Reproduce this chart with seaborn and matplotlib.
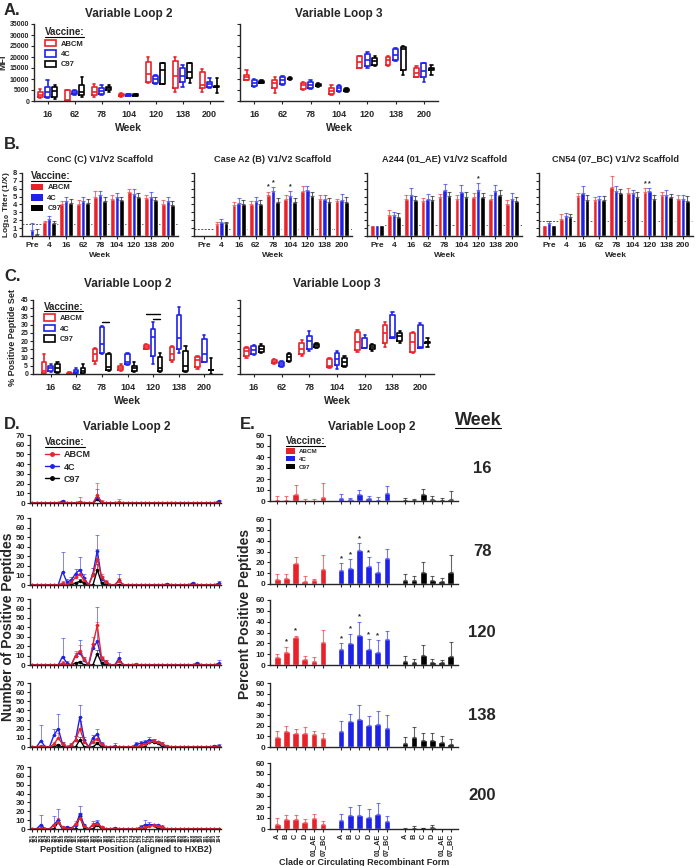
import numpy as np
import pandas as pd
import matplotlib
matplotlib.use('Agg')
import matplotlib.pyplot as plt
import seaborn as sns
from matplotlib.patches import Patch
from matplotlib.lines import Line2D

sns.set_style('ticks')
plt.rcParams['font.family'] = ['Liberation Sans', 'DejaVu Sans']
plt.rcParams['font.weight'] = 'bold'
plt.rcParams['axes.labelweight'] = 'bold'
plt.rcParams['axes.titleweight'] = 'bold'
plt.rcParams['axes.linewidth'] = 1.0
plt.rcParams['xtick.major.size'] = 2.5
plt.rcParams['ytick.major.size'] = 2.5
plt.rcParams['xtick.major.width'] = 0.8
plt.rcParams['ytick.major.width'] = 0.8
plt.rcParams['xtick.major.pad'] = 1.5
plt.rcParams['ytick.major.pad'] = 1.0

VACCINES = ['ABCM', '4C', 'C97']
COLORS = {'ABCM': '#e8222a', '4C': '#1e22e8', 'C97': '#000000'}

# ---- panel A: MFI box summaries (min, q1, median, q3, max) ----
BOX_WEEKS = ['16', '62', '78', '104', '120', '138', '200']
mfi_v2 = {
    'ABCM': [(1200, 2000, 2800, 4200, 5300), (0, 100, 500, 4800, 5200), (2000, 2700, 4300, 6200, 7600),
             (2000, 2300, 2700, 3100, 3500), (8400, 8800, 12300, 17700, 19800), (4300, 5800, 11400, 18300, 20200),
             (4300, 5800, 7300, 13400, 14500)],
    '4C': [(1500, 2000, 4300, 6500, 9600), (2700, 3000, 3800, 4500, 5000), (2700, 3000, 4700, 5800, 7300),
           (2300, 2500, 2800, 3100, 3300), (7800, 8400, 9900, 11400, 11900), (6500, 8800, 11400, 14900, 16400),
           (5800, 6500, 7600, 8800, 10400)],
    'C97': [(1000, 2000, 4700, 6200, 7300), (2000, 2700, 4300, 7300, 10800), (4300, 5000, 5800, 6500, 7300),
            (2200, 2500, 2800, 3100, 3300), (7600, 7700, 14200, 17200, 17500), (8400, 10400, 13400, 17200, 17500),
            (3800, 6300, 6500, 6700, 10400)],
}
mfi_v3 = {
    'ABCM': [(9600, 9700, 10800, 11800, 13900), (3800, 5800, 8000, 9600, 11000), (5000, 5500, 7300, 8400, 8800),
             (2700, 3000, 4600, 5800, 7300), (14900, 15000, 17800, 20500, 20500), (16000, 16300, 18700, 20000, 20500),
             (10800, 10900, 12900, 15000, 16000)],
    '4C': [(6200, 7000, 8000, 9600, 9900), (7300, 7800, 9600, 10800, 11400), (5300, 5800, 7300, 8800, 9600),
           (4300, 4500, 6100, 6800, 7300), (15000, 16000, 18700, 21500, 22500), (18000, 18500, 21000, 23500, 24000),
           (8800, 11100, 13700, 17200, 17500)],
    'C97': [(8000, 8300, 8800, 9300, 9600), (9600, 9800, 10000, 10600, 11000), (6200, 6700, 7300, 7800, 8400),
            (4300, 4500, 5000, 5300, 5800), (15700, 16200, 18000, 19500, 20500), (11900, 14000, 23600, 24500, 24800),
            (11900, 14200, 14500, 14800, 16400)],
}

# ---- panel B: log10 titers ----
TITER_WEEKS = ['Pre', '4', '16', '62', '78', '104', '120', '138', '200']
titer_titles = ['ConC (C) V1/V2 Scaffold', 'Case A2 (B) V1/V2 Scaffold',
                'A244 (01_AE) V1/V2 Scaffold', 'CN54 (07_BC) V1/V2 Scaffold']
titer_cutoffs = [1.55, 0.9, 1.4, 1.9]
titer_vals = [
    {'ABCM': [0, 1.8, 4.0, 4.1, 4.95, 4.75, 5.6, 4.85, 4.1],
     '4C': [0.7, 2.15, 4.45, 4.45, 5.25, 5.0, 5.35, 5.0, 4.4],
     'C97': [0.3, 1.6, 4.25, 4.25, 4.45, 4.6, 4.95, 4.6, 3.9]},
    {'ABCM': [0, 1.5, 3.9, 4.0, 5.2, 4.75, 5.7, 4.75, 4.4],
     '4C': [0, 1.8, 4.25, 4.4, 5.7, 5.1, 5.9, 4.75, 4.6],
     'C97': [0, 1.6, 4.0, 4.0, 4.3, 4.3, 5.05, 4.3, 4.3]},
    {'ABCM': [1.4, 2.65, 4.75, 4.45, 4.9, 4.75, 4.95, 4.75, 4.05],
     '4C': [1.4, 2.65, 5.25, 4.75, 5.8, 5.6, 5.8, 5.7, 4.75],
     'C97': [1.4, 2.35, 4.55, 4.55, 5.05, 4.95, 4.9, 5.2, 4.45]},
    {'ABCM': [1.4, 2.15, 5.1, 4.55, 6.2, 5.4, 5.6, 5.2, 4.65],
     '4C': [1.6, 2.5, 5.4, 4.65, 5.7, 5.4, 5.7, 5.2, 4.75],
     'C97': [1.4, 2.35, 4.55, 4.55, 5.4, 4.95, 4.75, 4.95, 4.4]},
]
titer_errs = [
    {'ABCM': [0, 0.1, 0.5, 0.5, 0.8, 0.5, 0.4, 0.4, 0.5],
     '4C': [0.9, 0.4, 0.5, 0.5, 0.5, 0.5, 0.6, 0.6, 0.6],
     'C97': [0.6, 0.3, 0.5, 0.5, 0.5, 0.4, 0.5, 0.4, 0.5]},
    {'ABCM': [0, 0.3, 0.4, 0.5, 0.4, 0.4, 0.7, 0.5, 0.3],
     '4C': [0, 0.3, 0.6, 0.6, 0.5, 0.6, 0.5, 0.5, 0.7],
     'C97': [0, 0.2, 0.6, 0.6, 0.5, 0.5, 0.5, 0.5, 0.6]},
    {'ABCM': [0, 0.7, 0.5, 0.4, 0.4, 0.5, 0.5, 0.5, 0.5],
     '4C': [0, 0.4, 0.8, 0.6, 0.8, 0.9, 0.9, 0.8, 0.7],
     'C97': [0, 0.6, 0.5, 0.5, 0.5, 0.6, 0.6, 0.6, 0.5]},
    {'ABCM': [0, 0.6, 0.3, 0.4, 1.4, 0.7, 0.5, 0.4, 0.5],
     '4C': [0.3, 0.4, 0.9, 0.4, 0.6, 0.5, 0.4, 0.6, 0.5],
     'C97': [0, 0.5, 0.6, 0.5, 0.6, 0.6, 0.4, 0.4, 0.7]},
]
titer_stars = [[], [('78', 'ABCM'), ('78', '4C'), ('104', '4C')], [('120', '4C')],
               [('120', 'ABCM'), ('120', '4C')]]

# ---- panel C: % positive peptide set (min, q1, median, q3, max) ----
pct_v2 = {
    'ABCM': [(0, 0.5, 2, 7, 12), (0, 0.2, 0.5, 0.8, 1), (6, 8, 12, 15, 16), (2, 2.5, 3.5, 5, 6),
             (15, 15.5, 16.5, 17.5, 18), (7, 8.5, 12, 16.5, 17), (3, 4.5, 8.5, 10.5, 11)],
    '4C': [(1, 2, 3.5, 5, 6), (0, 0.5, 1.5, 2.5, 3.5), (12, 13, 18.5, 28.5, 29), (5.5, 6, 7, 12, 12.5),
           (6, 11, 22.5, 27.5, 31.5), (13, 15, 22, 36, 40.5), (7, 7.5, 12, 21, 23.5)],
    'C97': [(0.5, 1.5, 3.5, 6, 7), (0, 0.5, 2, 3.5, 6), (2, 2.5, 4, 12, 13), (1, 2, 3.5, 5, 7),
            (1.5, 2, 3.5, 10.5, 13), (1.5, 2, 5, 14, 17), (0, 2.3, 2.5, 2.7, 10)],
}
pct_v3 = {
    'ABCM': [(10, 11, 14, 16, 16.5), (6, 6.5, 7.5, 8.5, 9), (11, 12, 15, 19, 20.5), (3.5, 4, 5, 9, 10),
             (13.6, 14.6, 19.7, 25.8, 26.8), (16.6, 18.7, 24.7, 29.8, 31.4), (13, 13.5, 19.3, 25, 25.4)],
    '4C': [(11.5, 12, 14.5, 17, 17.5), (4.5, 5, 6, 7, 8), (14, 15.5, 20, 23, 26), (3, 5.5, 9, 13, 14),
           (15.6, 15.7, 16, 21.7, 24), (22, 22.1, 22.3, 36, 37.5), (15.8, 16, 16.2, 29.8, 30.8)],
    'C97': [(13, 13.5, 15.5, 17, 18), (7.5, 8, 10.5, 12, 13), (16, 16.5, 17.5, 18.5, 19), (4, 5, 7.5, 9.5, 11),
            (14, 15, 16.6, 17.6, 18), (18.7, 20.3, 23.3, 25, 26.4), (16.6, 19, 19.3, 19.6, 21.7)],
}
# significance bars (week, from vaccine, to vaccine, height)
pct_sig = [('78', '4C', 'C97', 31.5), ('120', 'ABCM', 'C97', 36.5), ('120', '4C', 'C97', 33.7)]

# ---- panel D: positive peptides per start position ----
PEP_POS = list(range(151, 195))
PEP_WEEKS = ['16', '78', '120', '138', '200']
# {position index: (mean, sd)}
pep_abcm = {
    '16': {11: (1, 5), 15: (8, 13), 16: (1, 2), 20: (1, 3), 32: (0.5, 1)},
    '78': {7: (2, 2), 9: (3, 2), 10: (8, 4), 11: (11, 6), 12: (5, 3), 14: (10, 8), 15: (27, 11),
           16: (8, 3), 17: (3, 2), 20: (4, 3)},
    '120': {7: (2, 2), 10: (10, 5), 11: (15, 6), 12: (6, 3), 14: (22, 8), 15: (42, 4), 16: (7, 3),
            17: (3, 2), 20: (4, 3), 24: (1, 1)},
    '138': {2: (1, 1), 5: (3, 2), 6: (10, 5), 7: (3, 2), 9: (2, 1), 10: (8, 4), 11: (20, 8), 12: (6, 3),
            14: (6, 3), 15: (9, 4), 16: (3, 1), 25: (2, 2), 26: (3, 2), 27: (5, 2), 28: (7, 2), 29: (5, 2),
            30: (3, 2), 31: (1, 1)},
    '200': {2: (1, 1), 5: (4, 2), 6: (8, 4), 7: (2, 1), 10: (6, 3), 11: (12, 4), 12: (3, 2), 14: (5, 2),
            15: (6, 3), 16: (2, 1), 25: (1, 2), 26: (2, 2), 27: (3, 2), 28: (4, 2), 29: (3, 2), 30: (2, 1)},
}
pep_4c = {
    '16': {7: (2, 1), 11: (1, 1), 15: (6, 8), 43: (2, 1)},
    '78': {7: (14, 20), 8: (3, 3), 9: (5, 3), 10: (12, 5), 11: (16, 13), 12: (7, 4), 14: (12, 6),
           15: (36, 16), 16: (6, 3), 17: (3, 1), 20: (5, 6), 31: (1, 1), 37: (2, 1), 43: (2, 2)},
    '120': {7: (9, 20), 8: (2, 2), 10: (10, 3), 11: (13, 14), 12: (5, 3), 14: (18, 4), 15: (25, 36),
            16: (6, 3), 17: (3, 2), 20: (7, 7), 38: (2, 1), 43: (2, 3)},
    '138': {2: (7, 17), 5: (13, 7), 6: (20, 16), 7: (3, 2), 9: (2, 2), 10: (8, 4), 11: (33, 13), 12: (8, 3),
            14: (10, 3), 15: (14, 6), 16: (3, 2), 19: (1, 3), 24: (3, 2), 25: (4, 3), 26: (5, 3), 27: (8, 3),
            28: (7, 2), 29: (5, 2), 30: (3, 2), 42: (1, 1), 43: (1, 2)},
    '200': {2: (5, 11), 5: (5, 10), 6: (10, 13), 8: (2, 1), 9: (1, 1), 10: (4, 3), 11: (17, 9), 12: (4, 2),
            14: (5, 4), 15: (7, 3), 16: (2, 1), 19: (1, 1), 25: (2, 2), 26: (5, 5), 27: (5, 3), 28: (4, 2),
            29: (4, 2), 30: (2, 2)},
}
pep_c97 = {
    '16': {15: (4, 2)},
    '78': {10: (2, 1), 11: (4, 2), 12: (2, 1), 15: (16, 6), 16: (2, 1)},
    '120': {10: (2, 1), 11: (3, 1), 15: (12, 4), 16: (2, 1)},
    '138': {6: (2, 1), 11: (8, 3), 15: (4, 2), 27: (6, 2), 28: (5, 1), 29: (4, 1)},
    '200': {6: (8, 2), 11: (15, 3), 15: (5, 2), 27: (5, 1), 28: (4, 1)},
}

# ---- panel E: percent positive peptides by clade ----
CLADES = ['A', 'B', 'C', 'D', '01_AE', '07_BC']
clade_abcm = {'16': [1, 1, 6, 0, 0, 4], '78': [5, 6, 19, 3, 4, 14], '120': [7, 12, 26, 6, 4, 21],
              '138': [9, 15, 13, 13, 12, 8], '200': [5, 9, 9, 6, 10, 5]}
clade_abcm_sd = {'16': [4, 4, 9, 2, 2, 12], '78': [4, 3, 6, 4, 1, 13], '120': [3, 5, 1, 2, 3, 11],
                 '138': [6, 5, 4, 6, 3, 5], '200': [5, 4, 4, 3, 4, 2]}
clade_4c = {'16': [3, 2, 6, 3, 1, 7], '78': [13, 15, 31, 17, 11, 24], '120': [15, 20, 28, 15, 12, 24],
            '138': [15, 24, 26, 21, 22, 18], '200': [8, 13, 13, 11, 14, 7]}
clade_4c_sd = {'16': [3, 1, 4, 2, 3, 7], '78': [6, 8, 7, 8, 9, 8], '120': [5, 9, 12, 9, 11, 7],
               '138': [9, 7, 13, 8, 12, 12], '200': [6, 7, 9, 7, 10, 5]}
clade_c97 = {'16': [1, 1, 6, 2, 1, 2], '78': [4, 3.5, 11, 3.5, 3, 11], '120': [3.6, 2.7, 9, 2.7, 2.7, 8.4],
             '138': [3.3, 9.3, 7, 7, 4.8, 3], '200': [0, 1, 0.5, 2, 0, 0]}
clade_c97_sd = {'16': [2, 1, 5, 3, 2, 7], '78': [5, 3.5, 9, 4, 2.4, 15.5], '120': [4.4, 3.3, 9.5, 3.3, 1.8, 12.6],
                '138': [5.7, 9.7, 6.5, 6.5, 5.2, 4.5], '200': [0.5, 2, 0.5, 2, 0, 0]}
clade_stars = {'78': [('4C', 'A'), ('4C', 'B'), ('4C', 'C'), ('4C', 'D')],
               '120': [('ABCM', 'B'), ('ABCM', 'C'), ('4C', 'A'), ('4C', 'B'), ('4C', 'C'), ('4C', 'D'),
                       ('4C', '01_AE')]}

W, H = 696, 866
fig = plt.figure(figsize=(W / 100, H / 100), dpi=100)
underlined = []


def add_ax(l, t, r, b):
    return fig.add_axes([l / W, 1 - b / H, (r - l) / W, (b - t) / H])


def ftext(x, y, s, **kw):
    return fig.text(x / W, 1 - y / H, s, **kw)


def vaccine_legend(ax, handles, anchor, fs=5.5):
    leg = ax.legend(handles=handles, labels=VACCINES, title='Vaccine:', loc='upper left',
                    bbox_to_anchor=anchor, frameon=False, fontsize=fs, title_fontsize=7,
                    handlelength=1.5, handleheight=0.9, labelspacing=0.35, borderaxespad=0,
                    alignment='left', handletextpad=0.6)
    underlined.append(leg.get_title())
    return leg


def box_panel(ax, stats, ylim, yticks, show_ylabels=True):
    rows = [(wk, vac, v) for vac in VACCINES for wk, s in zip(BOX_WEEKS, stats[vac]) for v in s]
    df = pd.DataFrame(rows, columns=['week', 'vaccine', 'value'])
    sns.boxplot(data=df, x='week', y='value', hue='vaccine', order=BOX_WEEKS, hue_order=VACCINES,
                palette=COLORS, fill=False, whis=(0, 100), width=0.8, gap=0.35, linewidth=1.2,
                legend=False, ax=ax)
    ax.set_ylim(*ylim)
    ax.set_yticks(yticks)
    if not show_ylabels:
        ax.set_yticklabels([])
    ax.set_xlabel('Week', fontsize=7.5, labelpad=3)
    ax.set_ylabel('')
    ax.tick_params(axis='x', labelsize=6.5, pad=4)
    ax.tick_params(axis='y', labelsize=5)
    sns.despine(ax=ax)


box_handles = [Patch(facecolor='white', edgecolor=COLORS[v], linewidth=1.2) for v in VACCINES]
solid_handles = [Patch(facecolor=COLORS[v], edgecolor='none') for v in VACCINES]
line_handles = [Line2D([], [], color=COLORS[v], marker='o', markersize=2.5, linewidth=1) for v in VACCINES]

# ---------------- A ----------------
ax = add_ax(34, 24, 223, 101)
box_panel(ax, mfi_v2, (0, 35000), range(0, 35001, 5000))
ax.set_title('Variable Loop 2', fontsize=8.5, pad=5)
ax.set_ylabel('MFI', fontsize=6.5)
ax.yaxis.set_label_coords(-0.14, 0.5)
vaccine_legend(ax, box_handles, (0.04, 1.0))
ax = add_ax(240, 24, 438, 101)
box_panel(ax, mfi_v3, (0, 35000), range(0, 35001, 5000), show_ylabels=False)
ax.set_title('Variable Loop 3', fontsize=8.5, pad=5)
ftext(4, 15, 'A.', fontsize=12, fontweight='bold')

# ---------------- B ----------------
b_rects = [(22, 173, 178, 236), (194, 173, 352, 236), (367, 173, 522, 236), (539, 173, 693, 236)]
for k, rect in enumerate(b_rects):
    ax = add_ax(*rect)
    rows = [(wk, vac, v, e) for wk_i, wk in enumerate(TITER_WEEKS) for vac in VACCINES
            for v, e in [(titer_vals[k][vac][wk_i], titer_errs[k][vac][wk_i])]]
    df = pd.DataFrame(rows, columns=['week', 'vaccine', 'value', 'err'])
    sns.barplot(data=df, x='week', y='value', hue='vaccine', order=TITER_WEEKS, hue_order=VACCINES,
                palette=COLORS, saturation=1, width=0.8, errorbar=None, legend=False, ax=ax)
    bars = sorted(ax.patches, key=lambda p: p.get_x())
    for p, (_, row) in zip(bars, df.iterrows()):
        xc = p.get_x() + p.get_width() / 2
        if row['err'] > 0:
            ax.errorbar([xc], [row['value']], yerr=[[0], [row['err']]], fmt='none',
                        ecolor=COLORS[row['vaccine']], alpha=0.6, elinewidth=0.8, capsize=1.2, capthick=0.8)
        if (row['week'], row['vaccine']) in titer_stars[k]:
            ax.text(xc, row['value'] + row['err'] + 0.15, '*', ha='center', va='bottom', fontsize=5)
    ax.axhline(titer_cutoffs[k], color='#555555', ls='--', lw=0.7, dashes=(2, 1.5), zorder=0.5)
    ax.set_ylim(0, 8)
    ax.set_yticks(range(0, 9))
    ax.set_xlim(-0.6, 8.6)
    ax.tick_params(axis='x', labelsize=6, pad=2)
    ax.tick_params(axis='y', labelsize=5.5)
    ax.set_xlabel('Week', fontsize=6, labelpad=2)
    ax.set_ylabel('')
    ax.set_title(titer_titles[k], fontsize=6.6, pad=8)
    if k == 0:
        ax.set_ylabel(r'Log$_{10}$ Titer (1/X)', fontsize=6, labelpad=1)
        vaccine_legend(ax, solid_handles, (0.04, 1.08))
    else:
        ax.set_yticklabels([])
    sns.despine(ax=ax)
ftext(4, 149, 'B.', fontsize=12, fontweight='bold')

# ---------------- C ----------------
ax = add_ax(33, 300, 222, 374)
box_panel(ax, pct_v2, (0, 45), range(0, 46, 5))
ax.set_title('Variable Loop 2', fontsize=8.5, pad=9)
ax.set_ylabel('% Positive Peptide Set', fontsize=6.5, labelpad=2)
for wk, v_from, v_to, y in pct_sig:
    ctr = BOX_WEEKS.index(wk)
    x0 = ctr + (VACCINES.index(v_from) - 1) * 0.8 / 3
    x1 = ctr + (VACCINES.index(v_to) - 1) * 0.8 / 3
    ax.plot([x0, x1], [y, y], color='black', lw=1)
vaccine_legend(ax, box_handles, (0.04, 1.02))
ax = add_ax(240, 300, 434, 374)
box_panel(ax, pct_v3, (0, 45), range(0, 46, 5), show_ylabels=False)
ax.set_title('Variable Loop 3', fontsize=8.5, pad=9)
ftext(4, 281, 'C.', fontsize=12, fontweight='bold')

# ---------------- D ----------------
d_rows = [(435, 503), (518, 585), (599, 665), (683, 747), (767, 829)]
pep_sets = {'ABCM': pep_abcm, '4C': pep_4c, 'C97': pep_c97}
for k, (wk, (t, b)) in enumerate(zip(PEP_WEEKS, d_rows)):
    ax = add_ax(30, t, 221, b)
    rows = []
    for vac in VACCINES:
        for i, pos in enumerate(PEP_POS):
            m, sd = pep_sets[vac][wk].get(i, (0, 0))
            rows.append((i, vac, m, sd))
    df = pd.DataFrame(rows, columns=['pos', 'vaccine', 'value', 'sd'])
    for vac in ['C97', '4C', 'ABCM']:
        sub = df[df['vaccine'] == vac]
        nz = sub[sub['sd'] > 0]
        ax.errorbar(nz['pos'], nz['value'], yerr=[np.zeros(len(nz)), nz['sd']], fmt='none',
                    ecolor=COLORS[vac], alpha=0.55, elinewidth=0.7, capsize=1.2, capthick=0.7)
    sns.lineplot(data=df, x='pos', y='value', hue='vaccine', hue_order=['C97', '4C', 'ABCM'],
                 palette=COLORS, marker='o', markersize=2.5, markeredgewidth=0, linewidth=1,
                 legend=False, ax=ax)
    ax.set_xlim(-0.5, len(PEP_POS) - 0.5)
    ax.set_ylim(0, 70)
    ax.set_yticks(range(0, 71, 10))
    ax.set_xticks(range(len(PEP_POS)))
    ax.tick_params(axis='y', labelsize=6)
    ax.tick_params(axis='x', length=2)
    ax.set_xlabel('')
    ax.set_ylabel('')
    if k == len(PEP_WEEKS) - 1:
        ax.set_xticklabels([str(p) for p in PEP_POS], rotation=90, fontsize=3.6)
        ax.set_xlabel('Peptide Start Position (aligned to HXB2)', fontsize=6.5, labelpad=2)
    else:
        ax.set_xticklabels([])
    if k == 0:
        vaccine_legend(ax, line_handles, (0.06, 1.02), fs=6.5)
    sns.despine(ax=ax)
ftext(4, 429, 'D.', fontsize=12, fontweight='bold')
ftext(127, 430, 'Variable Loop 2', fontsize=8.5, fontweight='bold', ha='center')
ftext(8, 627, 'Number of Positive Peptides', fontsize=10, fontweight='bold', rotation=90,
      ha='center', va='center')

# ---------------- E ----------------
e_rows = [(435, 501), (519, 584), (600, 665), (683, 747), (763, 829)]
clade_sets = {'ABCM': (clade_abcm, clade_abcm_sd), '4C': (clade_4c, clade_4c_sd),
              'C97': (clade_c97, clade_c97_sd)}
gaps = ['gap1', 'gap2']
order = ([f'ABCM|{c}' for c in CLADES] + ['gap1'] + [f'4C|{c}' for c in CLADES] + ['gap2']
         + [f'C97|{c}' for c in CLADES])
for k, (wk, (t, b)) in enumerate(zip(PEP_WEEKS, e_rows)):
    ax = add_ax(270, t, 458, b)
    rows = []
    for vac in VACCINES:
        vals, sds = clade_sets[vac]
        for c, m, sd in zip(CLADES, vals[wk], sds[wk]):
            rows.append((f'{vac}|{c}', vac, c, m, sd))
    df = pd.DataFrame(rows, columns=['key', 'vaccine', 'clade', 'value', 'sd'])
    sns.barplot(data=df, x='key', y='value', hue='vaccine', order=order, hue_order=VACCINES,
                palette=COLORS, saturation=1, dodge=False, width=0.72, errorbar=None,
                legend=False, ax=ax)
    bars = sorted(ax.patches, key=lambda p: p.get_x())
    stars = clade_stars.get(wk, [])
    for p, (_, row) in zip(bars, df.iterrows()):
        xc = p.get_x() + p.get_width() / 2
        if row['sd'] > 0:
            ax.errorbar([xc], [row['value']], yerr=[[0], [row['sd']]], fmt='none',
                        ecolor=COLORS[row['vaccine']], alpha=0.6, elinewidth=0.8, capsize=1.2, capthick=0.8)
        if (row['vaccine'], row['clade']) in stars:
            ax.text(xc, row['value'] + row['sd'] + 1, '*', ha='center', va='bottom', fontsize=5.5)
    ticks = [i for i, key in enumerate(order) if key not in gaps]
    ax.set_xticks(ticks)
    ax.set_xlim(-0.8, len(order) - 0.2)
    ax.set_ylim(0, 60)
    ax.set_yticks(range(0, 61, 10))
    ax.tick_params(axis='y', labelsize=6)
    ax.tick_params(axis='x', length=2)
    ax.set_xlabel('')
    ax.set_ylabel('')
    if k == len(PEP_WEEKS) - 1:
        ax.set_xticklabels([order[i].split('|')[1] for i in ticks], rotation=90, fontsize=5.2)
        ax.set_xlabel('Clade or Circulating Recombinant Form', fontsize=6.5, labelpad=1)
    else:
        ax.set_xticklabels([])
    if k == 0:
        vaccine_legend(ax, solid_handles, (0.07, 1.02), fs=4.5)
    sns.despine(ax=ax)
    ftext(482, (t + b) / 2, wk, fontsize=12, fontweight='bold', ha='center', va='center')
ftext(240, 429, 'E.', fontsize=12, fontweight='bold')
ftext(372, 430, 'Variable Loop 2', fontsize=8.5, fontweight='bold', ha='center')
underlined.append(ftext(478, 420, 'Week', fontsize=13, fontweight='bold', ha='center', va='center'))
ftext(245, 614, 'Percent Positive Peptides', fontsize=10, fontweight='bold', rotation=90,
      ha='center', va='center')

# underline the legend titles and the week header
fig.canvas.draw()
renderer = fig.canvas.get_renderer()
for txt in underlined:
    bb = txt.get_window_extent(renderer).transformed(fig.transFigure.inverted())
    fig.add_artist(Line2D([bb.x0, bb.x1], [bb.y0 + 0.0005, bb.y0 + 0.0005], color='black',
                          lw=0.8, transform=fig.transFigure))

fig.savefig('out.png', dpi=100)
